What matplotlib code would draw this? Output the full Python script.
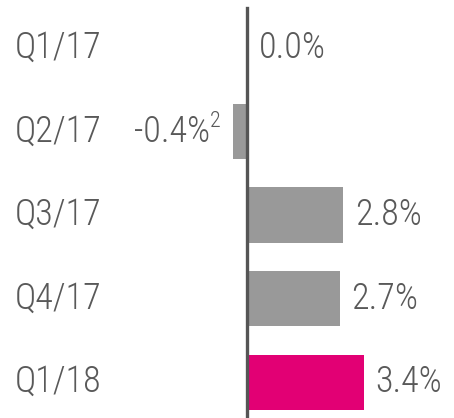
import matplotlib
matplotlib.use("Agg")
import matplotlib.pyplot as plt

quarters = ["Q1/17", "Q2/17", "Q3/17", "Q4/17", "Q1/18"]
growth = [0.0, -0.4, 2.8, 2.7, 3.4]
labels = ["0.0%", "-0.4%", "2.8%", "2.7%", "3.4%"]
notes = ["", "2", "", "", ""]

grey = "#999999"
magenta = "#E20074"
text_col = "#595959"
colors = [grey, grey, grey, grey, magenta]

plt.rcParams["font.family"] = ["Roboto Condensed", "DejaVu Sans"]
plt.rcParams["font.weight"] = 300

fig = plt.figure(figsize=(4.54, 4.18), dpi=100)
ax = fig.add_axes([0, 0, 1, 1])
px = 34.3  # pixels per percent point
ax.set_xlim(-247 / px, 207 / px)
ax.set_ylim(4.43, -0.575)
ax.axis("off")

ypos = list(range(len(quarters)))
ax.barh(ypos, growth, height=0.66, color=colors, zorder=2)
ax.plot([0, 0], [4.43, -0.48], color="#555555", lw=2.4, zorder=3)

x_left = -232 / px
gap = 12 / px
fs = 26
for y, q, v, lab, n in zip(ypos, quarters, growth, labels, notes):
    ax.text(x_left, y, q, fontsize=fs, color=text_col, va="center", ha="left")
    if v >= 0:
        ax.text(v + gap, y, lab, fontsize=fs, color=text_col, va="center", ha="left")
    else:
        ax.text(v - gap - 11 / px, y, lab, fontsize=fs, color=text_col, va="center", ha="right")
        ax.text(v - gap - 11 / px, y - 0.12, n, fontsize=16, color=text_col, va="center", ha="left")

fig.savefig("out.png", dpi=100)
